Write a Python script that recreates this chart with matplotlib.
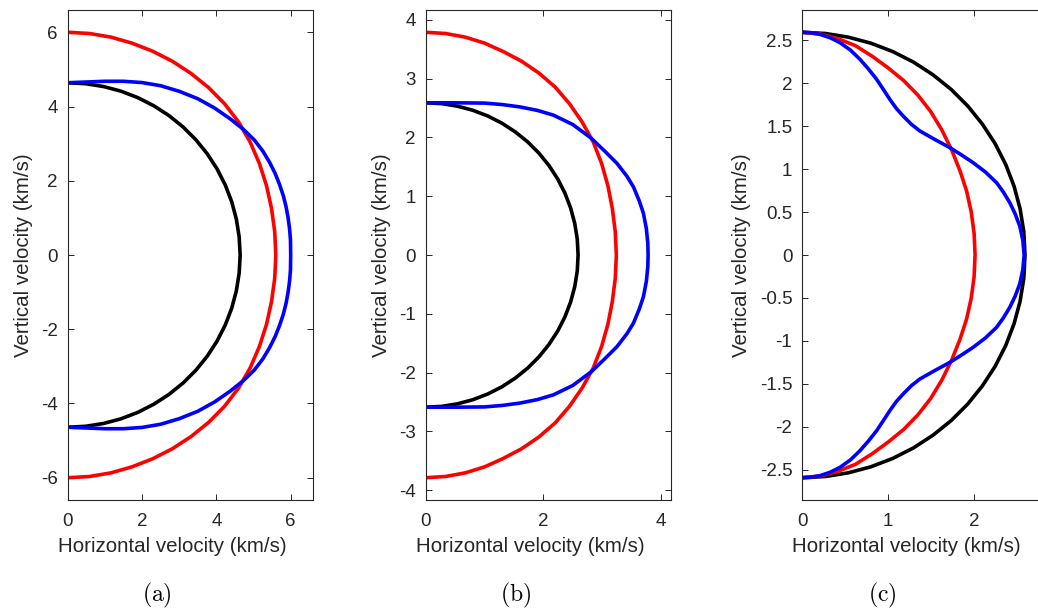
import numpy as np
import matplotlib
matplotlib.use("Agg")
import matplotlib.pyplot as plt

plt.rcParams['font.family'] = ['Liberation Sans', 'DejaVu Sans']
plt.rcParams['mathtext.fontset'] = 'cm'
plt.rcParams['axes.unicode_minus'] = False

# ---------------- data (upper half, z >= 0; curves are mirror-symmetric) ----------------
# Panel (a)
a_black_x = [0, 0.485, 0.965, 1.434, 1.887, 2.32, 2.727, 3.105, 3.448, 3.754, 4.018, 4.239, 4.413, 4.538, 4.614, 4.64]
a_black_z = [4.64, 4.614, 4.538, 4.413, 4.239, 4.018, 3.754, 3.448, 3.105, 2.727, 2.32, 1.887, 1.434, 0.965, 0.485, 0]
a_red_x = [0, 0.585, 1.164, 1.730, 2.285, 2.815, 3.32, 3.79, 4.22, 4.60, 4.91, 5.16, 5.35, 5.485, 5.57, 5.6]
a_red_z = [6.0, 5.967, 5.869, 5.707, 5.49, 5.22, 4.89, 4.51, 4.075, 3.58, 3.04, 2.46, 1.865, 1.25, 0.627, 0]
a_blue_x = [0, 0.5, 1.0, 1.5, 2.0, 2.5, 3.0, 3.5, 3.95, 4.37, 4.72, 5.02, 5.25, 5.43, 5.58, 5.70, 5.80,
            5.876, 5.93, 5.97, 5.994, 6.0]
a_blue_z = [4.64, 4.66, 4.68, 4.68, 4.645, 4.56, 4.41, 4.21, 3.96, 3.67, 3.39, 3.1, 2.8, 2.5, 2.2, 1.9, 1.6,
            1.3, 1.0, 0.7, 0.4, 0]

# Panel (b)
b_black_x = [0, 0.271, 0.538, 0.800, 1.053, 1.295, 1.522, 1.733, 1.925, 2.095, 2.243, 2.366, 2.463, 2.533, 2.576, 2.59]
b_black_z = [2.59, 2.576, 2.533, 2.463, 2.366, 2.243, 2.095, 1.925, 1.733, 1.522, 1.295, 1.053, 0.800, 0.538, 0.271, 0]
b_red_x = [0, 0.339, 0.674, 1.001, 1.318, 1.628, 1.923, 2.20, 2.444, 2.66, 2.848, 2.99, 3.097, 3.172, 3.222, 3.24]
b_red_z = [3.79, 3.769, 3.707, 3.605, 3.462, 3.298, 3.097, 2.858, 2.574, 2.261, 1.923, 1.556, 1.177, 0.79, 0.396, 0]
b_blue_x = [0, 0.5, 1.0, 1.3, 1.6, 1.9, 2.17, 2.5, 2.81, 3.05, 3.25, 3.42, 3.53, 3.63, 3.70, 3.75, 3.775, 3.78]
b_blue_z = [2.59, 2.59, 2.585, 2.56, 2.52, 2.46, 2.38, 2.22, 1.99, 1.76, 1.56, 1.34, 1.16, 0.92, 0.71, 0.45, 0.2, 0]

# Panel (c)
c_black_x = [0, 0.271, 0.538, 0.800, 1.053, 1.295, 1.522, 1.733, 1.925, 2.095, 2.243, 2.366, 2.463, 2.533, 2.576, 2.59]
c_black_z = [2.59, 2.576, 2.533, 2.463, 2.366, 2.243, 2.095, 1.925, 1.733, 1.522, 1.295, 1.053, 0.800, 0.538, 0.271, 0]
c_red_x = [0, 0.21, 0.418, 0.621, 0.817, 1.005, 1.181, 1.345, 1.494, 1.626, 1.741, 1.836, 1.912, 1.966, 1.999, 2.01]
c_red_z = [2.59, 2.57, 2.515, 2.434, 2.31, 2.172, 2.028, 1.86, 1.669, 1.451, 1.215, 0.977, 0.743, 0.50, 0.251, 0]
c_blue_x = [0, 0.1, 0.209, 0.33, 0.44, 0.56, 0.673, 0.77, 0.867, 0.945, 1.02, 1.095, 1.175, 1.27, 1.369,
            1.54, 1.717, 1.85, 1.987, 2.13, 2.259, 2.34, 2.413, 2.475, 2.529, 2.565, 2.58]
c_blue_z = [2.59, 2.585, 2.566, 2.525, 2.47, 2.385, 2.276, 2.165, 2.043, 1.925, 1.81, 1.705, 1.616, 1.52, 1.442,
            1.345, 1.249, 1.165, 1.074, 0.965, 0.842, 0.73, 0.609, 0.48, 0.337, 0.17, 0]

panels = [
    dict(curves=[(a_black_x, a_black_z, 'black'), (a_red_x, a_red_z, 'red'), (a_blue_x, a_blue_z, 'blue')],
         lim=6.6, xticks=[0, 2, 4, 6], yticks=[-6, -4, -2, 0, 2, 4, 6], left=67.7, cap='(a)', capx=157),
    dict(curves=[(b_black_x, b_black_z, 'black'), (b_red_x, b_red_z, 'red'), (b_blue_x, b_blue_z, 'blue')],
         lim=4.169, xticks=[0, 2, 4], yticks=[-4, -3, -2, -1, 0, 1, 2, 3, 4], left=425.7, cap='(b)', capx=516),
    dict(curves=[(c_black_x, c_black_z, 'black'), (c_red_x, c_red_z, 'red'), (c_blue_x, c_blue_z, 'blue')],
         lim=2.849, xticks=[0, 1, 2], yticks=[-2.5, -2, -1.5, -1, -0.5, 0, 0.5, 1, 1.5, 2, 2.5], left=802, cap='(c)', capx=882),
]

W, H = 1038, 612
AX_W = 245.3
AX_H = 490.0
fig = plt.figure(figsize=(W / 100, H / 100), dpi=100)
txt = '#262626'

for p in panels:
    ax = fig.add_axes([p['left'] / W, (H - 500) / H, AX_W / W, AX_H / H])
    for xs, zs, col in p['curves']:
        xs = np.asarray(xs, float)
        zs = np.asarray(zs, float)
        # lower half (mirror) from bottom to the horizontal point, then upper half back to the top
        X = np.concatenate([xs, xs[::-1][1:]])
        Z = np.concatenate([-zs, zs[::-1][1:]])
        ax.plot(X, Z, color=col, lw=2.6, solid_joinstyle='round', solid_capstyle='round')
    ax.set_xlim(0, p['lim'])
    ax.set_ylim(-p['lim'], p['lim'])
    ax.set_xticks(p['xticks'])
    ax.set_yticks(p['yticks'])
    ax.set_xticklabels(['%g' % v for v in p['xticks']])
    ax.set_yticklabels(['%g' % v for v in p['yticks']])
    ax.tick_params(direction='in', top=True, right=True, length=4.5, width=0.7,
                   color=txt, labelcolor=txt, labelsize=13.5)
    ax.tick_params(axis='x', pad=9)
    ax.tick_params(axis='y', pad=7)
    for s in ax.spines.values():
        s.set_color(txt)
        s.set_linewidth(0.8)
    ax.set_xlabel('Horizontal velocity (km/s)', fontsize=14.8, color=txt)
    ax.xaxis.set_label_coords(0.5 - 18.5 / AX_W, -47.0 / AX_H)
    ax.xaxis.label.set_va('center')
    ax.set_ylabel('Vertical velocity (km/s)', fontsize=14.8, color=txt, labelpad=6)
    fig.text(p['capx'] / W, 1 - 595 / H, r'$\mathrm{' + p['cap'] + '}$', fontsize=17,
             ha='center', va='center', color='black')

fig.savefig('out.png', dpi=100)
